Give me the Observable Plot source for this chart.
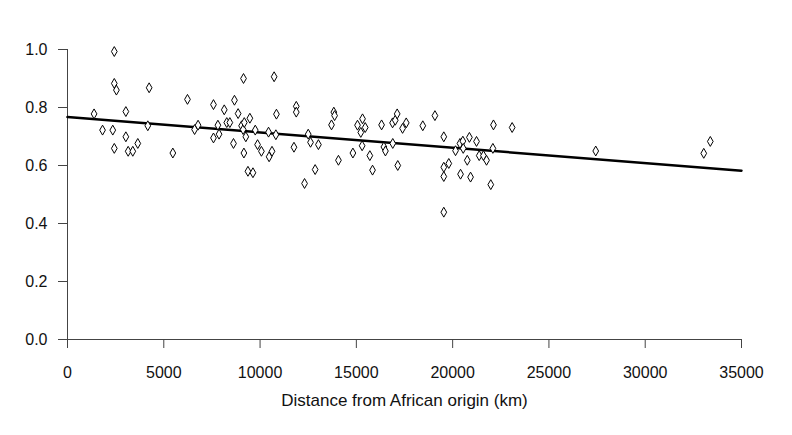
<!DOCTYPE html>
<html><head><meta charset="utf-8">
<script src="https://cdn.jsdelivr.net/npm/d3@7"></script>
<script src="https://cdn.jsdelivr.net/npm/@observablehq/plot@0.6"></script>
<style>body{margin:0;background:#fff} svg{display:block}</style>
</head><body><div id="chart"></div>
<script>
// Scatter: distance from African origin (km) vs. value
const distanceKm = [1380,1820,2350,2430,2430,2540,2430,3030,3030,3150,3390,3650,4170,4240,5470,6230,
  6600,6780,7580,7580,7810,7870,8140,8270,8430,8620,8670,8860,9040,9120,9180,9140,9160,9260,9370,9630,
  9470,9750,9870,10070,10470,10620,10440,10820,10730,10850,11760,11880,11880,
  12310,12500,12620,12860,13030,13710,13830,13870,14070,14820,15060,15230,15300,15320,15460,15700,15840,
  16310,16430,16510,16890,16880,17020,17120,17150,17400,17590,18450,19080,19540,19540,19540,19540,19800,
  20150,20380,20530,20550,20870,21240,20760,20410,20930,21380,21600,21760,21980,22090,22120,23090,27430,
  33040,33380];
const diversity = [0.778,0.722,0.722,0.993,0.883,0.860,0.659,0.786,0.699,0.649,0.649,0.676,0.737,0.868,0.643,0.828,
  0.724,0.739,0.810,0.695,0.739,0.708,0.792,0.748,0.748,0.676,0.825,0.779,0.737,0.724,0.748,0.900,0.643,0.699,0.580,0.575,
  0.763,0.722,0.672,0.649,0.630,0.649,0.715,0.706,0.906,0.777,0.663,0.804,0.784,
  0.538,0.708,0.680,0.586,0.672,0.740,0.784,0.772,0.618,0.643,0.739,0.714,0.668,0.761,0.731,0.634,0.584,
  0.740,0.664,0.650,0.676,0.747,0.756,0.778,0.600,0.728,0.747,0.737,0.772,0.699,0.594,0.562,0.439,0.607,
  0.651,0.676,0.684,0.659,0.697,0.683,0.618,0.570,0.560,0.634,0.634,0.618,0.534,0.659,0.740,0.731,0.650,
  0.642,0.683];
// Fitted regression line end points
const regDistance = [0, 35000];
const regValue = [0.767, 0.582];
// Axis ticks and labels
const xTicks = [0, 5000, 10000, 15000, 20000, 25000, 30000, 35000];
const yTicks = [0, 0.2, 0.4, 0.6, 0.8, 1.0];
const xLabel = "Distance from African origin (km)";

const points = distanceKm.map((d, i) => ({distance: d, value: diversity[i]}));
const regression = regDistance.map((d, i) => ({distance: d, value: regValue[i]}));

const chart = Plot.plot({
  width: 792, height: 435,
  marginLeft: 67, marginRight: 51, marginTop: 49, marginBottom: 96,
  style: {fontFamily: "'Liberation Sans', Arial, sans-serif", fontSize: "16px", color: "#111", background: "#fff"},
  x: {domain: [0, 35000]},
  y: {domain: [0, 1]},
  marks: [
    Plot.ruleY([0], {stroke: "#444"}),
    Plot.ruleX([0], {stroke: "#444"}),
    Plot.axisX({ticks: xTicks, tickSize: 9, tickPadding: 18, tickFormat: d => String(d), stroke: "#444", fontSize: 16, label: null}),
    Plot.axisY({ticks: yTicks, tickSize: 9, tickPadding: 11, tickFormat: d => d.toFixed(1), stroke: "#444", fontSize: 16, label: null}),
    Plot.lineY(regression, {x: "distance", y: "value", stroke: "#000", strokeWidth: 2.5}),
    Plot.dot(points, {x: "distance", y: "value", symbol: "diamond", r: 3.0, fill: "white", stroke: "#000", strokeWidth: 1}),
    Plot.text([xLabel], {frameAnchor: "bottom", dy: 66, fontSize: 17, fill: "#111"})
  ]
});
document.getElementById("chart").appendChild(chart);
</script>
</body></html>
